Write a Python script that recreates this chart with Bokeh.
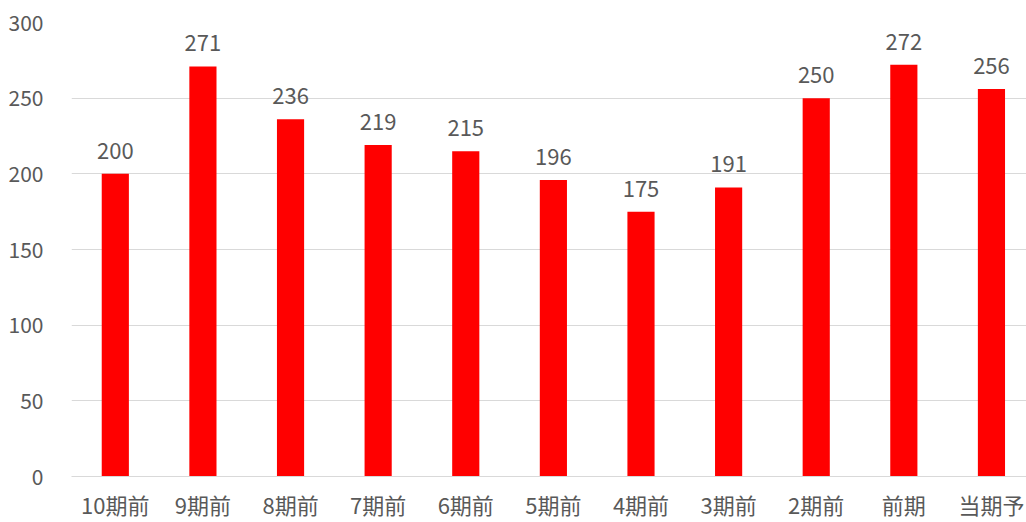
from bokeh.plotting import figure
from bokeh.models import Range1d, FixedTicker, ColumnDataSource
from bokeh.core.properties import value
from bokeh.embed import file_html
from bokeh.resources import INLINE

categories = ["10期前", "9期前", "8期前", "7期前", "6期前", "5期前", "4期前", "3期前", "2期前", "前期", "当期予"]
values = [200, 271, 236, 219, 215, 196, 175, 191, 250, 272, 256]
y_ticks = [0, 50, 100, 150, 200, 250, 300]

xs = list(range(len(categories)))
src = ColumnDataSource(dict(x=xs, top=values, label=[str(v) for v in values]))

FONT = "Noto Sans CJK JP"
GRAY = "#595959"

p = figure(width=1026, height=522, output_backend="svg", toolbar_location=None,
           x_range=Range1d(-0.5, 10.4), y_range=Range1d(0, 300),
           min_border_left=71, min_border_top=22, min_border_bottom=45, min_border_right=0)
p.outline_line_color = None
p.background_fill_color = "white"
p.border_fill_color = "white"

p.vbar(x="x", top="top", width=0.31, bottom=0, source=src, fill_color="#FF0000", line_color=None)
p.text(x="x", y="top", text="label", source=src, text_align="center", text_baseline="bottom",
       y_offset=-15, text_font_size="22px", text_color=GRAY, text_font=value(FONT))

# x axis
p.xaxis.ticker = FixedTicker(ticks=xs)
p.xaxis.major_label_overrides = {i: c for i, c in enumerate(categories)}
p.xaxis.axis_line_color = "#d9d9d9"
p.xaxis.axis_line_width = 1
p.xaxis.major_tick_line_color = None
p.xaxis.minor_tick_line_color = None
p.xaxis.major_label_text_font = FONT
p.xaxis.major_label_text_font_size = "22px"
p.xaxis.major_label_text_color = GRAY
p.xaxis.major_label_standoff = 5

# y axis
p.yaxis.ticker = FixedTicker(ticks=y_ticks)
p.yaxis.axis_line_color = None
p.yaxis.major_tick_line_color = None
p.yaxis.minor_tick_line_color = None
p.yaxis.major_label_text_font = FONT
p.yaxis.major_label_text_font_size = "21px"
p.yaxis.major_label_text_color = GRAY
p.yaxis.major_label_standoff = 22

p.xgrid.grid_line_color = None
p.ygrid.grid_line_color = "#d9d9d9"
p.ygrid.grid_line_width = 1

open("out.html", "w").write(file_html(p, INLINE))
